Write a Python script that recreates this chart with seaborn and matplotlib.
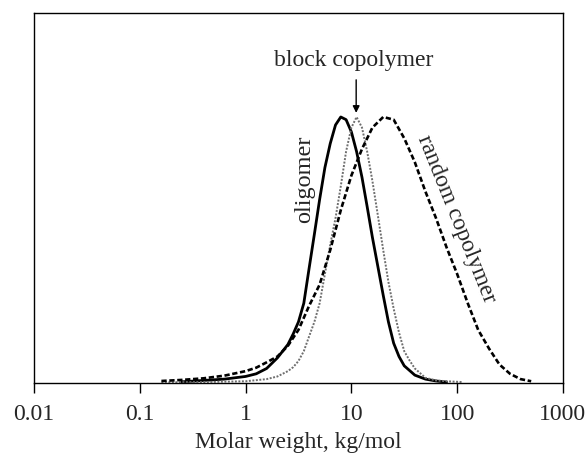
import numpy as np
import pandas as pd
import seaborn as sns
import matplotlib.pyplot as plt

# molar weight (kg/mol) and normalised detector signal
oligomer_M = [0.25, 0.40, 0.63, 1.0, 1.26, 1.58, 2.0, 2.24, 2.51, 2.82, 3.16, 3.55,
              3.98, 4.47, 5.01, 5.62, 6.31, 7.08, 7.94, 8.91, 10.0, 11.2, 12.6,
              14.1, 15.8, 17.8, 20.0, 22.4, 25.1, 28.2, 31.6, 39.8, 50.1, 63.1, 79.4]
oligomer_h = [0.005, 0.010, 0.015, 0.025, 0.035, 0.055, 0.095, 0.12, 0.145, 0.185,
              0.23, 0.30, 0.43, 0.56, 0.69, 0.81, 0.90, 0.97, 1.0, 0.99, 0.944,
              0.87, 0.773, 0.663, 0.548, 0.438, 0.33, 0.23, 0.15, 0.10, 0.065,
              0.03, 0.015, 0.008, 0.004]

block_M = [0.16, 0.40, 1.0, 1.58, 2.0, 2.51, 2.82, 3.16, 3.55, 3.98, 4.47, 5.01,
           5.62, 6.31, 7.08, 7.94, 8.91, 10.0, 11.2, 12.6, 14.1, 15.8, 17.8, 20.0,
           22.4, 25.1, 28.2, 31.6, 35.5, 39.8, 50.1, 63.1, 79.4, 100.0, 112.0]
block_h = [0.003, 0.004, 0.007, 0.015, 0.025, 0.045, 0.06, 0.083, 0.12, 0.175,
           0.23, 0.30, 0.41, 0.52, 0.62, 0.74, 0.87, 0.96, 1.0, 0.96, 0.87, 0.76,
           0.63, 0.50, 0.38, 0.28, 0.19, 0.12, 0.085, 0.055, 0.02, 0.01, 0.007,
           0.005, 0.004]

random_M = [0.16, 0.25, 0.40, 0.63, 1.0, 1.26, 1.58, 2.0, 2.51, 3.16, 3.98, 5.01,
            6.31, 7.94, 10.0, 12.6, 15.8, 20.0, 25.1, 31.6, 39.8, 50.1, 63.1, 79.4,
            100.0, 126.0, 158.0, 200.0, 251.0, 316.0, 398.0, 501.0]
random_h = [0.008, 0.012, 0.018, 0.028, 0.045, 0.058, 0.078, 0.10, 0.14, 0.20,
            0.29, 0.37, 0.50, 0.65, 0.78, 0.88, 0.96, 1.0, 0.99, 0.92, 0.83, 0.72,
            0.62, 0.51, 0.41, 0.30, 0.20, 0.13, 0.07, 0.035, 0.015, 0.007]

tick_vals = [0.01, 0.1, 1, 10, 100, 1000]
tick_labels = ['0.01', '0.1', '1', '10', '100', '1000']

sns.set_style('white')
plt.rcParams['font.family'] = ['Liberation Serif', 'DejaVu Serif']

fig = plt.figure(figsize=(5.87, 4.55), dpi=100)
ax = fig.add_axes([0.058, 0.158, 0.901, 0.813])

sns.lineplot(x=oligomer_M, y=oligomer_h, ax=ax, color='black', linewidth=2.0)
sns.lineplot(x=block_M, y=block_h, ax=ax, color='#6e6e6e', linewidth=1.4,
             linestyle=(0, (1, 0.8)))
sns.lineplot(x=random_M, y=random_h, ax=ax, color='black', linewidth=1.9,
             linestyle=(0, (2.0, 1.0)))

ax.set_xscale('log')
ax.set_xlim(0.01, 1000)
ax.set_ylim(0, 1.39)
ax.set_xticks(tick_vals)
ax.set_xticklabels(tick_labels)
ax.minorticks_off()
ax.set_yticks([])
ax.tick_params(axis='x', direction='out', length=7, width=1, color='black',
               labelsize=17, pad=8, bottom=True)
ax.set_xlabel('Molar weight, kg/mol', fontsize=17, labelpad=5)
for s in ax.spines.values():
    s.set_color('black')
    s.set_linewidth(1.0)

ax.text(3.6, 0.765, 'oligomer', rotation=90, ha='center', va='center', fontsize=17.5)
ax.text(98, 0.615, 'random copolymer', rotation=-68, ha='center', va='center',
        fontsize=17, rotation_mode='anchor')
ax.text(10.45, 1.214, 'block copolymer', ha='center', va='center', fontsize=17)
ax.annotate('', xy=(11.1, 1.005), xytext=(11.1, 1.15),
            arrowprops=dict(arrowstyle='-|>', color='black', lw=1, mutation_scale=10))

fig.savefig('out.png', dpi=100)
